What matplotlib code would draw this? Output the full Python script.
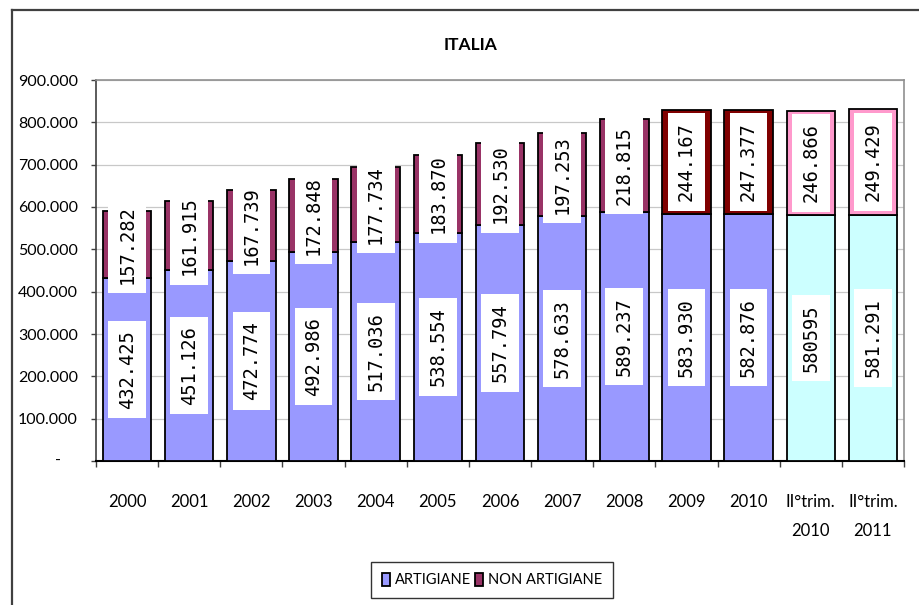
import matplotlib
matplotlib.use("Agg")
import matplotlib.pyplot as plt
from matplotlib.lines import Line2D
from matplotlib.ticker import FixedLocator

categories = ["2000", "2001", "2002", "2003", "2004", "2005", "2006", "2007",
              "2008", "2009", "2010", "II°trim.\n2010", "II°trim.\n2011"]
artigiane = [432425, 451126, 472774, 492986, 517036, 538554, 557794, 578633,
             589237, 583930, 582876, 580595, 581291]
non_artigiane = [157282, 161915, 167739, 172848, 177734, 183870, 192530, 197253,
                 218815, 244167, 247377, 246866, 249429]
artigiane_labels = ["432.425", "451.126", "472.774", "492.986", "517.036", "538.554",
                    "557.794", "578.633", "589.237", "583.930", "582.876", "580595",
                    "581.291"]
non_artigiane_labels = ["157.282", "161.915", "167.739", "172.848", "177.734", "183.870",
                        "192.530", "197.253", "218.815", "244.167", "247.377", "246.866",
                        "249.429"]
yticks = [0, 100000, 200000, 300000, 400000, 500000, 600000, 700000, 800000, 900000]
ytick_labels = ["", "100.000", "200.000", "300.000", "400.000", "500.000",
                "600.000", "700.000", "800.000", "900.000"]

FONT = ["Lato", "DejaVu Sans"]
plt.rcParams["font.family"] = FONT

W, H = 920, 605
fig = plt.figure(figsize=(W / 100, H / 100), dpi=100)
ax = fig.add_axes([96 / W, 1 - 461 / H, 808 / W, 381 / H])

n = len(categories)
x = list(range(n))
col_art = ["#9999FF"] * 11 + ["#CCFFFF"] * 2
col_non = ["#993366"] * 9 + ["#800000"] * 2 + ["#FF99CC"] * 2

b1 = ax.bar(x, artigiane, width=0.78, color=col_art, edgecolor="black",
            linewidth=1.3, label="ARTIGIANE", zorder=3)
b2 = ax.bar(x, non_artigiane, width=0.78, bottom=artigiane, color=col_non,
            edgecolor="black", linewidth=1.3, label="NON ARTIGIANE", zorder=3)

box = dict(boxstyle="square,pad=0.5", facecolor="white", edgecolor="none")
for i in range(n):
    ax.text(x[i], artigiane[i] / 2, artigiane_labels[i], rotation=90,
            ha="center", va="center", fontsize=13.5, family="DejaVu Sans Mono",
            bbox=box, zorder=5)
    ax.text(x[i], artigiane[i] + non_artigiane[i] / 2, non_artigiane_labels[i],
            rotation=90, ha="center", va="center", fontsize=13.5,
            family="DejaVu Sans Mono", bbox=box, zorder=5)

ax.set_xlim(-0.5, n - 0.5)
ax.set_ylim(0, 900000)
ax.set_yticks(yticks)
ax.set_yticklabels(ytick_labels, fontsize=11.5)
ax.tick_params(axis="y", length=3.6, width=1, pad=9.5, color="#404040")
ax.text(-0.047, 0, "-", transform=ax.get_yaxis_transform(), ha="center",
        va="center", fontsize=11.5)

ax.set_xticks(x)
ax.set_xticklabels(categories, fontsize=12, linespacing=1.95)
ax.tick_params(axis="x", which="major", length=0, pad=24)
ax.xaxis.set_minor_locator(FixedLocator([i - 0.5 for i in range(n + 1)]))
ax.tick_params(axis="x", which="minor", length=4, width=1, color="#404040")

ax.yaxis.grid(True, color="#C8C8C8", linewidth=0.9, zorder=0)
ax.set_axisbelow(True)
for s in ["top", "right"]:
    ax.spines[s].set_color("#909090")
    ax.spines[s].set_linewidth(1.2)
ax.spines["left"].set_color("#404040")
ax.spines["left"].set_linewidth(1.2)
ax.spines["bottom"].set_color("black")
ax.spines["bottom"].set_linewidth(1.5)

fig.text(471 / W, 1 - 45 / H, "ITALIA", ha="center", va="center",
         fontsize=12.5, fontweight="bold")

leg = fig.legend(handles=[b1, b2], loc="center", bbox_to_anchor=(492 / W, 1 - 580 / H),
                 ncol=2, fontsize=10.5, frameon=True, fancybox=False,
                 edgecolor="black", handlelength=0.55, handleheight=1.0,
                 handletextpad=0.3, columnspacing=0.3, borderpad=0.75,
                 borderaxespad=0)
leg.get_frame().set_linewidth(1.0)
for h, c in zip(leg.legend_handles, ["#9999FF", "#993366"]):
    h.set_facecolor(c)

fig.add_artist(Line2D([12 / W, 12 / W], [0, 1 - 10 / H], color="#404040", lw=1.6))
fig.add_artist(Line2D([12 / W, 1], [1 - 10 / H, 1 - 10 / H], color="#404040", lw=1.6))

fig.savefig("out.png", dpi=100)
